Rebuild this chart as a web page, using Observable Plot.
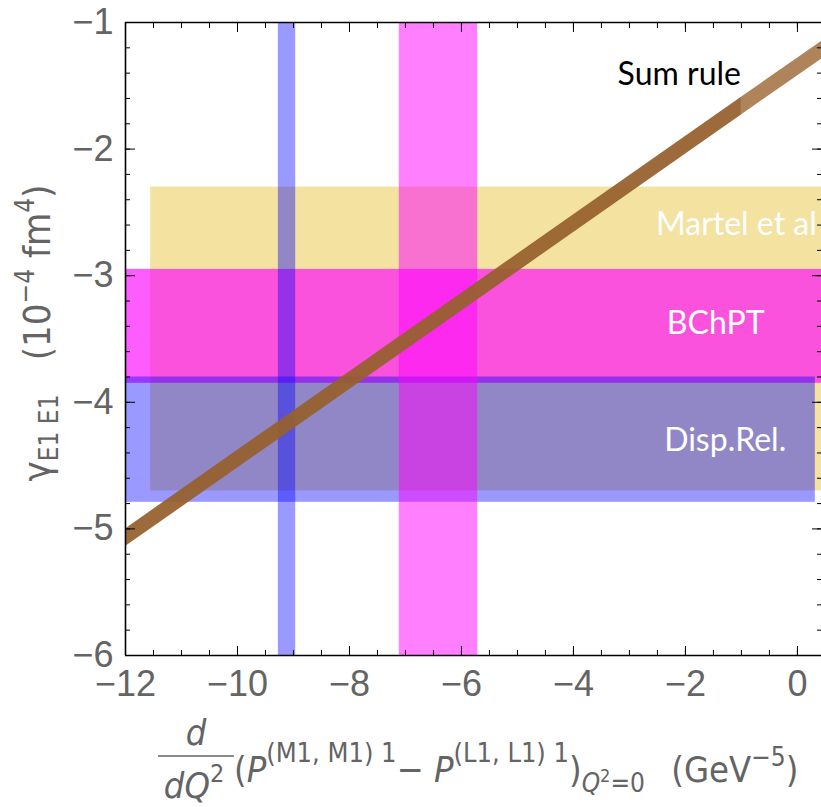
<!DOCTYPE html>
<html><head><meta charset="utf-8">
<script src="https://cdn.jsdelivr.net/npm/d3@7"></script>
<script src="https://cdn.jsdelivr.net/npm/@observablehq/plot@0.6"></script>
<style>
body{margin:0;background:#fff;overflow:hidden}
svg{display:block}
</style>
</head><body><div id="chart"></div>
<script>
// ---- scales / ticks ----
const xDomain = [-12, 0.43];
const yDomain = [-6, -1];
const xMajorTicks = [-12, -10, -8, -6, -4, -2, 0];
const xMinorTicks = d3.range(-12, 0.5, 0.5);
const yMajorTicks = [-6, -5, -4, -3, -2, -1];
const yMinorTicks = d3.range(-6, -0.99, 0.2);

// ---- horizontal bands (theory / fits) ----
const bandNames   = ["Martel et al", "BChPT", "Disp.Rel."];
const bandX1      = [-11.55, -12, -12];
const bandX2      = [0.43, 0.43, 0.32];
const bandLow     = [-4.70, -3.85, -4.79];
const bandHigh    = [-2.30, -2.95, -3.80];
const bandColors  = ["#f3e2a0", "#ff00ff", "#0000ff"];
const bandOpacity = [1, 0.64, 0.4];

// ---- vertical bands ----
const vbandX1      = [-9.27, -7.11];
const vbandX2      = [-8.96, -5.71];
const vbandColors  = ["#0000ff", "#ff00ff"];
const vbandOpacity = [0.4, 0.5];

// ---- sum rule band ----
const sumX     = [-12, -1];
const sumLow   = [-5.14, -1.73];
const sumHigh  = [-5.00, -1.59];
const sumExtX    = [-1, 0.43];
const sumExtLow  = [-1.73, -1.29];
const sumExtHigh = [-1.59, -1.15];

// ---- labels ----
const labelText  = ["Sum rule", "Martel et al", "BChPT", "Disp.Rel."];
const labelX     = [-2.11, -1.09, -1.46, -1.29];
const labelY     = [-1.41, -2.60, -3.38, -4.30];
const labelColor = ["#000000", "#ffffff", "#ffffff", "#ffffff"];

const bands = bandNames.map((n, i) => ({name: n, x1: bandX1[i], x2: bandX2[i], y1: bandLow[i], y2: bandHigh[i], c: bandColors[i], o: bandOpacity[i]}));
const vbands = vbandX1.map((x1, i) => ({x1, x2: vbandX2[i], y1: yDomain[0], y2: yDomain[1], c: vbandColors[i], o: vbandOpacity[i]}));
const sum = sumX.map((x, i) => ({x, lo: sumLow[i], hi: sumHigh[i]}));
const sumExt = sumExtX.map((x, i) => ({x, lo: sumExtLow[i], hi: sumExtHigh[i]}));
const labels = labelText.map((t, i) => ({t, x: labelX[i], y: labelY[i], c: labelColor[i]}));

const fmt = d => d < 0 ? "\u2212" + Math.abs(d) : String(d);
const tickFont = "Liberation Sans";
const axCol = "#646464";

const chart = Plot.plot({
  width: 821,
  height: 807,
  marginLeft: 125,
  marginRight: 0,
  marginTop: 22,
  marginBottom: 152,
  style: {background: "#fff", overflow: "hidden"},
  x: {domain: xDomain, axis: null},
  y: {domain: yDomain, axis: null},
  marks: [
    Plot.rect(bands, {x1: "x1", x2: "x2", y1: "y1", y2: "y2", fill: d => d.c, fillOpacity: d => d.o}),
    Plot.rect(vbands, {x1: "x1", x2: "x2", y1: "y1", y2: "y2", fill: d => d.c, fillOpacity: d => d.o}),
    Plot.areaY(sum, {x: "x", y1: "lo", y2: "hi", fill: "#96602c", fillOpacity: 0.93, curve: "linear"}),
    Plot.areaY(sumExt, {x: "x", y1: "lo", y2: "hi", fill: "#b0845a", curve: "linear"}),
    Plot.text(labels, {x: "x", y: "y", text: "t", fill: d => d.c, fontSize: 32, fontFamily: "Lato", textAnchor: "middle", lineAnchor: "middle"}),
    // frame
    Plot.ruleX([xDomain[0]], {stroke: "#000", strokeWidth: 1.6}),
    Plot.ruleY(yDomain, {stroke: "#000", strokeWidth: 1.6}),
    // ticks (inward)
    Plot.axisX({anchor: "bottom", ticks: xMajorTicks, tickSize: -9, tickFormat: () => "", stroke: "#000", label: null}),
    Plot.axisX({anchor: "bottom", ticks: xMinorTicks, tickSize: -5, tickFormat: () => "", stroke: "#000", label: null}),
    Plot.axisX({anchor: "top", ticks: xMajorTicks, tickSize: -9, tickFormat: () => "", stroke: "#000", label: null}),
    Plot.axisX({anchor: "top", ticks: xMinorTicks, tickSize: -5, tickFormat: () => "", stroke: "#000", label: null}),
    Plot.axisY({anchor: "left", ticks: yMajorTicks, tickSize: -10, tickFormat: () => "", stroke: "#000", label: null}),
    Plot.axisY({anchor: "left", ticks: yMinorTicks, tickSize: -5, tickFormat: () => "", stroke: "#000", label: null}),
    Plot.axisY({anchor: "right", ticks: yMajorTicks, tickSize: -10, tickFormat: () => "", stroke: "#000", label: null}),
    Plot.axisY({anchor: "right", ticks: yMinorTicks, tickSize: -5, tickFormat: () => "", stroke: "#000", label: null}),
    // tick labels
    Plot.axisX({anchor: "bottom", ticks: xMajorTicks, tickSize: 0, tickPadding: 15, tickFormat: fmt, fontSize: 36, fontFamily: tickFont, fill: axCol, label: null}),
    Plot.axisY({anchor: "left", ticks: yMajorTicks, tickSize: 0, tickPadding: 12, tickFormat: fmt, fontSize: 36, fontFamily: tickFont, fill: axCol, label: null})
  ]
});
document.getElementById("chart").appendChild(chart);

// ---- axis titles (real text, typeset with tspans) ----
const svg = d3.select(chart);
const labFont = "DejaVu Sans Condensed";
// y title
const yt = svg.append("text")
  .attr("transform", "translate(50,333) rotate(-90)")
  .attr("text-anchor", "middle")
  .attr("fill", axCol).attr("font-family", labFont).attr("font-size", 38);
yt.append("tspan").text("\u03b3");
yt.append("tspan").attr("font-size", 26).attr("dy", 8).text("E1 E1");
yt.append("tspan").attr("dy", -8).text("\u2002\u2002(10");
yt.append("tspan").attr("font-size", 26).attr("dy", -16).text("\u22124");
yt.append("tspan").attr("dy", 16).text(" fm");
yt.append("tspan").attr("font-size", 26).attr("dy", -16).text("4");
yt.append("tspan").attr("dy", 16).text(")");

// x title: fraction d / dQ^2
const g = svg.append("g").attr("fill", axCol).attr("font-family", labFont);
g.append("text").attr("x", 196).attr("y", 745).attr("text-anchor", "middle").attr("font-size", 36).attr("font-style", "italic").text("d");
g.append("line").attr("x1", 158).attr("x2", 234).attr("y1", 756).attr("y2", 756).attr("stroke", axCol).attr("stroke-width", 1.6);
const den = g.append("text").attr("x", 194).attr("y", 798).attr("text-anchor", "middle").attr("font-size", 36);
den.append("tspan").attr("font-style", "italic").text("dQ");
den.append("tspan").attr("font-size", 25).attr("dy", -16).text("2");

const xt = g.append("text").attr("x", 234).attr("y", 782).attr("text-anchor", "start").attr("font-size", 36);
xt.append("tspan").text("(");
xt.append("tspan").attr("font-style", "italic").text("P");
xt.append("tspan").attr("font-size", 27).attr("dy", -20).text("(M1, M1) 1");
xt.append("tspan").attr("dy", 20).text("\u2212 ");
xt.append("tspan").attr("font-style", "italic").text("P");
xt.append("tspan").attr("font-size", 27).attr("dy", -20).text("(L1, L1) 1");
xt.append("tspan").attr("dy", 20).text(")");
xt.append("tspan").attr("font-size", 26).attr("dy", 10).attr("font-style", "italic").text("Q");
xt.append("tspan").attr("font-size", 18).attr("dy", -10).text("2");
xt.append("tspan").attr("font-size", 26).attr("dy", 10).text("=0");
xt.append("tspan").attr("dy", -10).text("\u2002 (GeV");
xt.append("tspan").attr("font-size", 26).attr("dy", -16).text("\u22125");
xt.append("tspan").attr("dy", 16).text(")");
</script>
</body></html>
